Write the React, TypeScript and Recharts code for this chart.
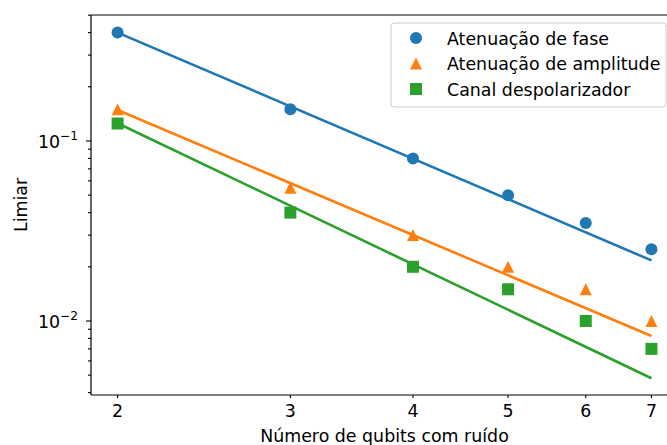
import React from 'react'
import { ComposedChart, Line, Scatter, XAxis, YAxis, ReferenceLine } from 'recharts'

const qubits = [2, 3, 4, 5, 6, 7]
const faseValues = [0.4, 0.15, 0.08, 0.05, 0.035, 0.025]
const amplitudeValues = [0.15, 0.055, 0.03, 0.02, 0.015, 0.01]
const despolValues = [0.125, 0.04, 0.02, 0.015, 0.01, 0.007]

// ajuste (reta em log-log), extremos
const fitQubits = [2, 7]
const faseFit = [0.4, 0.0217]
const amplitudeFit = [0.1485, 0.00826]
const despolFit = [0.1254, 0.00481]

const xTicks = [2, 3, 4, 5, 6, 7]
const yMajorTicks = [0.01, 0.1]
const yMinorTicks = [
  0.004, 0.005, 0.006, 0.007, 0.008, 0.009,
  0.02, 0.03, 0.04, 0.05, 0.06, 0.07, 0.08, 0.09,
  0.2, 0.3, 0.4, 0.5,
]

const xDomain = [1.879, 7.45]
const yDomain = [0.00388, 0.501]

const COLORS = { blue: '#1f77b4', orange: '#ff7f0e', green: '#2ca02c' }
const FONT = '"DejaVu Sans", sans-serif'
const FS = 17.4

const toPoints = (xs: number[], ys: number[]) => xs.map((x, i) => ({ x, y: ys[i] }))

type Shape = 'circle' | 'triangle' | 'square'

const series: { name: string; color: string; shape: Shape; values: number[]; fit: number[] }[] = [
  { name: 'Atenuação de fase', color: COLORS.blue, shape: 'circle', values: faseValues, fit: faseFit },
  { name: 'Atenuação de amplitude', color: COLORS.orange, shape: 'triangle', values: amplitudeValues, fit: amplitudeFit },
  { name: 'Canal despolarizador', color: COLORS.green, shape: 'square', values: despolValues, fit: despolFit },
]

function Marker({ cx, cy, shape, color }: { cx: number; cy: number; shape: Shape; color: string }) {
  const s = 6
  if (shape === 'circle') return <circle cx={cx} cy={cy} r={s} fill={color} />
  if (shape === 'triangle')
    return <polygon points={`${cx},${cy - s} ${cx - s},${cy + s} ${cx + s},${cy + s}`} fill={color} />
  return <rect x={cx - s} y={cy - s} width={2 * s} height={2 * s} fill={color} />
}

function YTick({ x, y, payload }: any) {
  const v = payload.value
  const major = yMajorTicks.includes(v)
  const exp = Math.round(Math.log10(v))
  return (
    <g>
      <line x1={x - (major ? 5 : 3)} x2={x} y1={y} y2={y} stroke="#000" strokeWidth={1.1} />
      {major && (
        <text x={x - 13} y={y + 7} textAnchor="end" fontSize={FS} fontFamily={FONT} fill="#000">
          <tspan>10</tspan>
          <tspan dy={-8} fontSize={FS * 0.7}>{'\u2212' + Math.abs(exp)}</tspan>
        </text>
      )}
    </g>
  )
}

function XTick({ x, y, payload }: any) {
  return (
    <g>
      <line x1={x} x2={x} y1={y} y2={y + 3} stroke="#000" strokeWidth={1.1} />
      <text x={x} y={y + 22} textAnchor="middle" fontSize={FS} fontFamily={FONT} fill="#000">
        {payload.value}
      </text>
    </g>
  )
}

function LegendBox() {
  return (
    <svg width={277} height={86} style={{ position: 'absolute', left: 390, top: 22 }}>
      <rect x={1} y={1} width={275} height={84} rx={3} fill="rgba(255,255,255,0.8)" stroke="#cccccc" />
      {series.map((s, i) => {
        const cy = 16 + i * 25.5
        return (
          <g key={s.name}>
            <Marker cx={26} cy={cy} shape={s.shape} color={s.color} />
            <text x={57} y={cy + 6.5} fontSize={FS} fontFamily={FONT} fill="#000">
              {s.name}
            </text>
          </g>
        )
      })}
    </svg>
  )
}

export default function App() {
  return (
    <div
      style={{
        position: 'fixed',
        left: 0,
        top: 0,
        width: 667,
        height: 445,
        overflow: 'hidden',
        background: '#fff',
      }}
    >
      <ComposedChart width={700} height={445} margin={{ top: 15, right: 22, bottom: 0, left: 0 }}>
        <XAxis
          type="number"
          dataKey="x"
          scale="log"
          domain={xDomain}
          allowDataOverflow
          ticks={xTicks}
          interval={0}
          tickSize={0}
          tickMargin={0}
          tickLine={false}
          tick={<XTick />}
          height={50}
          axisLine={{ stroke: '#000', strokeWidth: 1.2 }}
          label={({ viewBox }: any) => (
            <text
              x={viewBox.x + viewBox.width / 2}
              y={viewBox.y + 47}
              textAnchor="middle"
              fontSize={FS}
              fontFamily={FONT}
              fill="#000"
            >
              Número de qubits com ruído
            </text>
          )}
        />
        <YAxis
          type="number"
          dataKey="y"
          scale="log"
          domain={yDomain}
          allowDataOverflow
          ticks={[...yMinorTicks, ...yMajorTicks].sort((a, b) => a - b)}
          interval={0}
          tickSize={0}
          tickMargin={0}
          tickLine={false}
          tick={<YTick />}
          width={91}
          axisLine={{ stroke: '#000', strokeWidth: 1.2 }}
          label={({ viewBox }: any) => {
            const cx = viewBox.x + 27
            const cy = viewBox.y + viewBox.height / 2
            return (
              <text
                x={cx}
                y={cy}
                transform={`rotate(-90 ${cx} ${cy})`}
                textAnchor="middle"
                fontSize={FS}
                fontFamily={FONT}
                fill="#000"
              >
                Limiar
              </text>
            )
          }}
        />
        <ReferenceLine y={yDomain[1]} stroke="#000" strokeWidth={1.2} ifOverflow="extendDomain" />
        <ReferenceLine x={xDomain[1]} stroke="#000" strokeWidth={1.2} ifOverflow="extendDomain" />
        {series.map((s) => (
          <Line
            key={s.name + '-fit'}
            data={toPoints(fitQubits, s.fit)}
            dataKey="y"
            type="linear"
            stroke={s.color}
            strokeWidth={2.6}
            dot={false}
            activeDot={false}
            isAnimationActive={false}
          />
        ))}
        {series.map((s) => (
          <Scatter
            key={s.name}
            name={s.name}
            data={toPoints(qubits, s.values)}
            dataKey="y"
            fill={s.color}
            shape={(p: any) => <Marker cx={p.cx} cy={p.cy} shape={s.shape} color={s.color} />}
            isAnimationActive={false}
          />
        ))}
      </ComposedChart>
      <LegendBox />
    </div>
  )
}
